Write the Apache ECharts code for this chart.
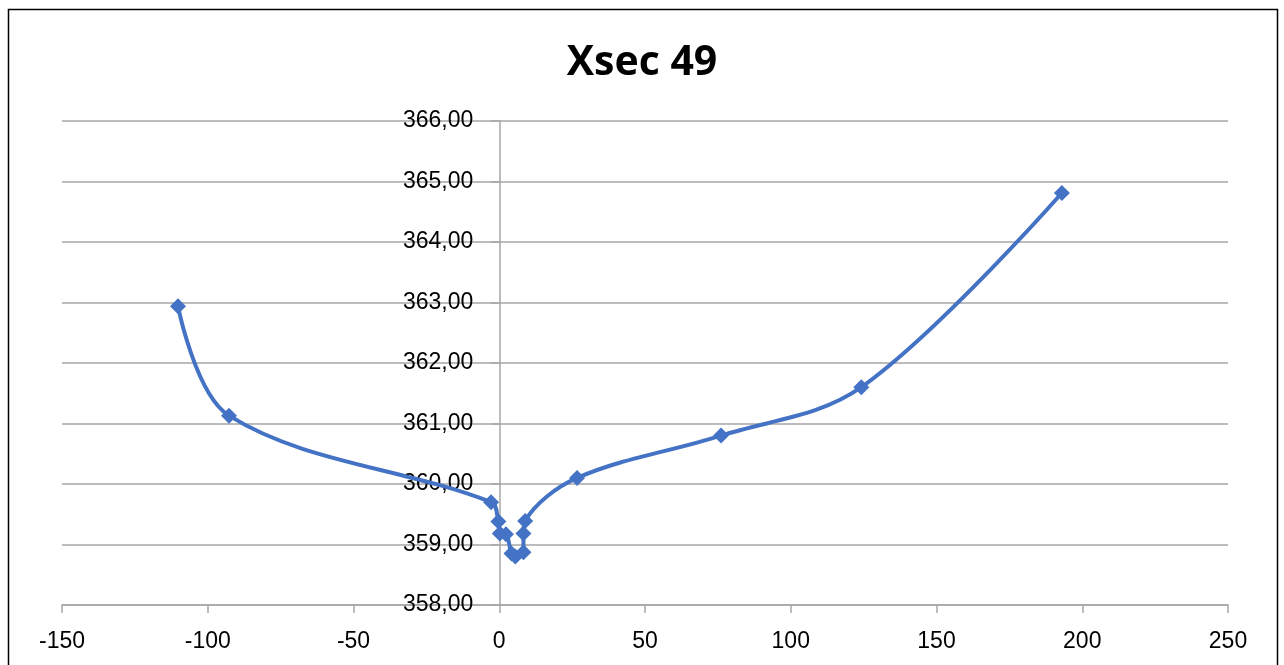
<!DOCTYPE html>
<html>
<head>
<meta charset="utf-8">
<script src="https://cdn.jsdelivr.net/npm/echarts@6/dist/echarts.min.js"></script>
<style>
html,body{margin:0;padding:0;background:#fff;}
#c{width:1284px;height:665px;}
</style>
</head>
<body>
<div id="c"></div>
<script>
const titleText = 'Xsec 49';
const xValues = [-110.2, -92.7, -2.8, -0.3, 0.2, 2.3, 4.2, 5.5, 8.3, 8.3, 8.9, 26.7, 76.1, 124.2, 193.0];
const yValues = [362.94, 361.13, 359.70, 359.38, 359.18, 359.17, 358.85, 358.80, 358.87, 359.18, 359.39, 360.10, 360.80, 361.60, 364.81];
const xTicks = [-150, -100, -50, 0, 50, 100, 150, 200, 250];
const yTicks = [358, 359, 360, 361, 362, 363, 364, 365, 366];

const chart = echarts.init(document.getElementById('c'));
const data = xValues.map((x, i) => [x, yValues[i]]);
const font = 'Liberation Sans, Arial, sans-serif';
const gridLeft = 62, gridRight = 56;
const plotW = 1284 - gridLeft - gridRight;
const xMin = xTicks[0], xMax = xTicks[xTicks.length - 1];
const zeroOffset = -(0 - xMin) / (xMax - xMin) * plotW;
chart.setOption({
  animation: false,
  backgroundColor: '#fff',
  title: {
    text: titleText, left: 'center', top: 38,
    textStyle: {fontFamily: 'Open Sans, Liberation Sans, sans-serif', fontWeight: 'bold', fontSize: 41, color: '#000'}
  },
  graphic: [{
    type: 'rect', shape: {x: 8.5, y: 9.5, width: 1269, height: 670},
    style: {fill: 'none', stroke: '#000', lineWidth: 1.5}, silent: true
  }],
  grid: {left: gridLeft, right: gridRight, top: 121, bottom: 60},
  xAxis: {
    type: 'value', min: xMin, max: xMax, interval: 50,
    axisLine: {show: true, onZero: false, lineStyle: {color: '#a6a6a6', width: 1.5}},
    axisTick: {show: true, length: 8, inside: false, lineStyle: {color: '#a6a6a6', width: 1.5}},
    axisLabel: {margin: 25, fontSize: 23, color: '#000', fontFamily: font},
    splitLine: {show: false}
  },
  yAxis: {
    type: 'value', min: yTicks[0], max: yTicks[yTicks.length - 1], interval: 1,
    position: 'left', offset: zeroOffset,
    axisLine: {show: true, onZero: false, lineStyle: {color: '#a6a6a6', width: 1.5}},
    axisTick: {show: true, length: 8, lineStyle: {color: '#a6a6a6', width: 1.5}},
    axisLabel: {margin: 26, fontSize: 23, color: '#000', fontFamily: font,
      formatter: v => v.toFixed(2).replace('.', ',')},
    splitLine: {show: true, lineStyle: {color: '#a6a6a6', width: 1.5}}
  },
  series: [{
    type: 'line', data: data, smooth: 0.35,
    symbol: 'diamond', symbolSize: 16,
    lineStyle: {color: '#4472C4', width: 4},
    itemStyle: {color: '#4472C4'}
  }]
});
</script>
</body>
</html>
